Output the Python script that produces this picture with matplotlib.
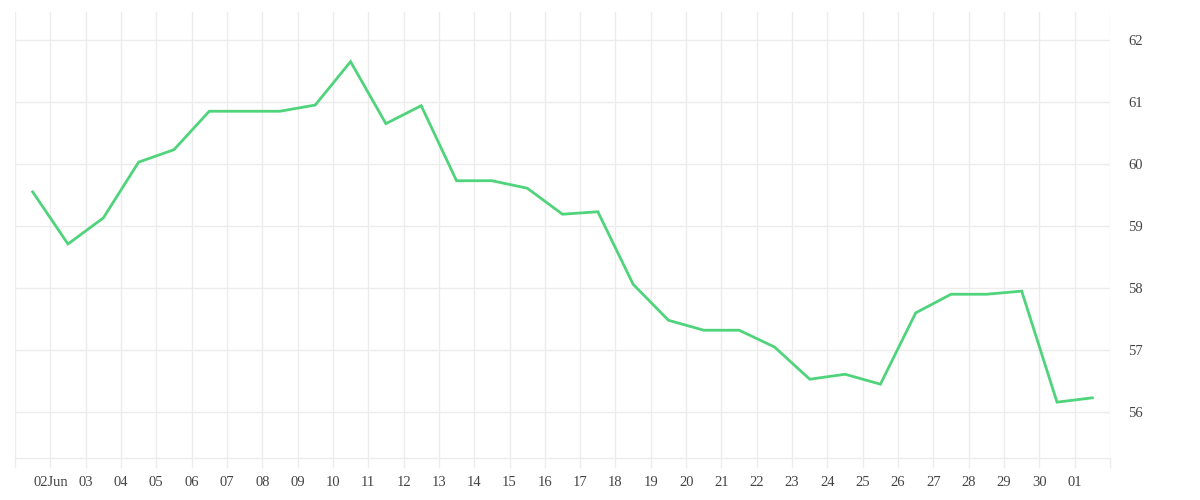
import matplotlib
matplotlib.use("Agg")
import matplotlib.pyplot as plt
import matplotlib.dates as mdates
import numpy as np
import pandas as pd

# daily values, 1 Jun - 1 Jul (plotted at midday)
days = pd.date_range("2023-06-01 12:00", "2023-07-01 12:00", freq="D")
values = [59.55, 58.71, 59.13, 60.03, 60.23, 60.85, 60.85, 60.85, 60.95, 61.65,
          60.65, 60.94, 59.73, 59.73, 59.61, 59.19, 59.23, 58.06, 57.48, 57.32,
          57.32, 57.05, 56.53, 56.61, 56.45, 57.60, 57.90, 57.90, 57.95, 56.16,
          56.23]
y_ticks = [56, 57, 58, 59, 60, 61, 62]

tick_days = pd.date_range("2023-06-01", "2023-07-02", freq="D")
tick_labels = [""] + ["02Jun"] + [d.strftime("%d") for d in tick_days[2:-1]] + [""]

grid_c = "#ececec"
text_c = "#444444"

fig = plt.figure(figsize=(12, 5), dpi=100)
ax = fig.add_axes([0.0125, 0.084, 0.9125, 0.892])

ax.plot(days, values, color="#4fd47c", linewidth=2.0, solid_joinstyle="miter")

ax.set_xlim(tick_days[0], tick_days[-1])
ax.set_ylim(55.26, 62.45)

ax.set_xticks(tick_days)
ax.set_xticklabels(tick_labels)
ax.set_yticks(y_ticks)

ax.yaxis.tick_right()
ax.grid(True, color=grid_c, linewidth=1.0)
ax.set_axisbelow(True)

for s in ["top", "left", "right"]:
    ax.spines[s].set_visible(False)
ax.spines["bottom"].set_color(grid_c)
ax.spines["bottom"].set_linewidth(1.0)

ax.tick_params(axis="x", length=7, width=1.0, color=grid_c, pad=6,
               labelsize=10.5, labelcolor=text_c)
ax.tick_params(axis="y", length=0, pad=13, labelsize=10.5, labelcolor=text_c)
for lbl in ax.get_xticklabels() + ax.get_yticklabels():
    lbl.set_fontfamily("Liberation Serif")
for lbl in ax.get_yticklabels():
    lbl.set_horizontalalignment("left")

fig.savefig("out.png", dpi=100, facecolor="white")
